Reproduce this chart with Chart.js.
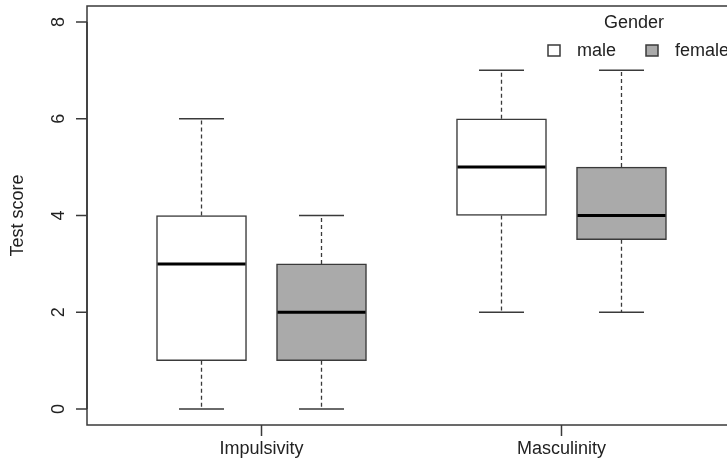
<!DOCTYPE html>
<html>
<head>
<meta charset="utf-8">
<title>Test score by gender</title>
<script src="https://cdn.jsdelivr.net/npm/chart.js@4.4.1/dist/chart.umd.min.js"></script>
<style>
  html, body { margin: 0; padding: 0; background: #fff; overflow: hidden; }
  #wrap { width: 760px; height: 461px; }
</style>
</head>
<body>
<div id="wrap"><canvas id="boxChart" width="760" height="461"></canvas></div>
<script>
// Boxplot data
const groups = ['Impulsivity', 'Masculinity'];
const yTicks = [0, 2, 4, 6, 8];

const maleMin = [0, 2];
const maleQ1 = [1, 4];
const maleMedian = [3, 5];
const maleQ3 = [4, 6];
const maleMax = [6, 7];

const femaleMin = [0, 2];
const femaleQ1 = [1, 3.5];
const femaleMedian = [2, 4];
const femaleQ3 = [3, 5];
const femaleMax = [4, 7];

const FONT = '18px "Liberation Sans", Arial, sans-serif';
const INK = '#222';
const LINE = '#3a3a3a';

function makeBoxes(label, fill, dodge, min, q1, med, q3, max) {
    return {
        label: label,
        data: groups.map((g, i) => ({ x: i + 1 + dodge, y: [q1[i], q3[i]] })),
        stats: { min: min, median: med, max: max },
        backgroundColor: fill,
        borderColor: LINE,
        borderWidth: 1.5,
        borderSkipped: false,
        barThickness: 90,
        grouped: false
    };
}

// whiskers, medians, frame, axes and legend drawn R-style on top of the bars
const boxplotExtras = {
    id: 'boxplotExtras',
    afterDatasetsDraw(chart) {
        const ctx = chart.ctx;
        const area = chart.chartArea;
        const x = chart.scales.x;
        const y = chart.scales.y;
        ctx.save();

        chart.data.datasets.forEach((ds, di) => {
            const meta = chart.getDatasetMeta(di);
            meta.data.forEach((bar, i) => {
                const cx = bar.x;
                const half = bar.width / 2;
                const pMin = y.getPixelForValue(ds.stats.min[i]);
                const pMax = y.getPixelForValue(ds.stats.max[i]);
                const pQ1 = y.getPixelForValue(ds.data[i].y[0]);
                const pQ3 = y.getPixelForValue(ds.data[i].y[1]);
                const pMed = y.getPixelForValue(ds.stats.median[i]);

                // dashed whiskers
                ctx.strokeStyle = LINE;
                ctx.lineWidth = 1.3;
                ctx.setLineDash([4, 3]);
                ctx.beginPath();
                ctx.moveTo(cx, pQ3); ctx.lineTo(cx, pMax);
                ctx.moveTo(cx, pQ1); ctx.lineTo(cx, pMin);
                ctx.stroke();

                // caps
                ctx.setLineDash([]);
                ctx.lineWidth = 1.5;
                ctx.beginPath();
                ctx.moveTo(cx - half / 2, pMax); ctx.lineTo(cx + half / 2, pMax);
                ctx.moveTo(cx - half / 2, pMin); ctx.lineTo(cx + half / 2, pMin);
                ctx.stroke();

                // median
                ctx.strokeStyle = '#000';
                ctx.lineWidth = 3;
                ctx.beginPath();
                ctx.moveTo(cx - half + 1, pMed); ctx.lineTo(cx + half - 1, pMed);
                ctx.stroke();
            });
        });

        // plot frame
        ctx.strokeStyle = LINE;
        ctx.lineWidth = 1.5;
        ctx.strokeRect(area.left, area.top, area.right - area.left, area.bottom - area.top);

        ctx.font = FONT;
        ctx.fillStyle = INK;

        // y axis ticks and rotated labels
        ctx.beginPath();
        ctx.moveTo(area.left, y.getPixelForValue(yTicks[0]));
        ctx.lineTo(area.left, y.getPixelForValue(yTicks[yTicks.length - 1]));
        yTicks.forEach(t => {
            const py = y.getPixelForValue(t);
            ctx.moveTo(area.left - 11, py);
            ctx.lineTo(area.left, py);
        });
        ctx.stroke();
        yTicks.forEach(t => {
            const py = y.getPixelForValue(t);
            ctx.save();
            ctx.translate(area.left - 23, py);
            ctx.rotate(-Math.PI / 2);
            ctx.textAlign = 'center';
            ctx.textBaseline = 'alphabetic';
            ctx.fillText(String(t), 0, 0);
            ctx.restore();
        });

        // y axis title
        ctx.save();
        ctx.translate(23, (area.top + area.bottom) / 2);
        ctx.rotate(-Math.PI / 2);
        ctx.textAlign = 'center';
        ctx.textBaseline = 'alphabetic';
        ctx.fillText('Test score', 0, 0);
        ctx.restore();

        // x axis ticks and group labels
        ctx.beginPath();
        groups.forEach((g, i) => {
            const px = x.getPixelForValue(i + 1);
            ctx.moveTo(px, area.bottom);
            ctx.lineTo(px, area.bottom + 11);
        });
        ctx.stroke();
        ctx.textAlign = 'center';
        ctx.textBaseline = 'alphabetic';
        groups.forEach((g, i) => {
            ctx.fillText(g, x.getPixelForValue(i + 1), area.bottom + 29);
        });

        // legend
        ctx.fillText('Gender', 634, 28);
        const legendX = [548, 646];
        ctx.textAlign = 'left';
        chart.data.datasets.forEach((ds, di) => {
            const lx = legendX[di];
            ctx.fillStyle = ds.backgroundColor;
            ctx.fillRect(lx, 45, 12, 11);
            ctx.strokeStyle = LINE;
            ctx.lineWidth = 1.5;
            ctx.strokeRect(lx, 45, 12, 11);
            ctx.fillStyle = INK;
            ctx.fillText(ds.label, lx + 29, 56);
        });

        ctx.restore();
    }
};

new Chart(document.getElementById('boxChart'), {
    type: 'bar',
    data: {
        datasets: [
            makeBoxes('male', '#ffffff', -0.2, maleMin, maleQ1, maleMedian, maleQ3, maleMax),
            makeBoxes('female', '#aaaaaa', 0.2, femaleMin, femaleQ1, femaleMedian, femaleQ3, femaleMax)
        ]
    },
    options: {
        responsive: false,
        animation: false,
        layout: { padding: { left: 87, top: 6, right: 15, bottom: 36 } },
        plugins: {
            legend: { display: false },
            tooltip: { enabled: false }
        },
        scales: {
            x: { type: 'linear', offset: false, min: 0.4183, max: 2.6117, display: false },
            y: { min: -0.33, max: 8.33, display: false }
        }
    },
    plugins: [boxplotExtras]
});
</script>
</body>
</html>
